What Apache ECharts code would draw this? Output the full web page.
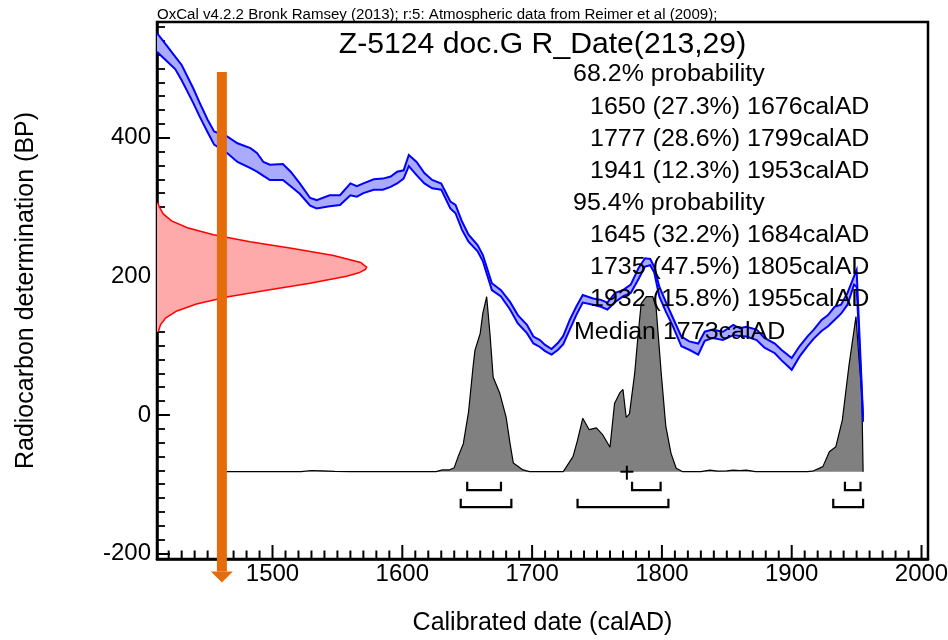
<!DOCTYPE html>
<html>
<head>
<meta charset="utf-8">
<script src="https://cdn.jsdelivr.net/npm/echarts@6/dist/echarts.min.js"></script>
<style>
  html, body { margin: 0; padding: 0; background: #fff; }
  #chart { width: 948px; height: 640px; }
</style>
</head>
<body>
<div id="chart"></div>
<script>
// calibration curve band (upper / lower edge, BP)
const curveYears = [1411, 1416, 1425, 1430, 1439, 1444, 1450, 1455, 1465, 1473, 1483, 1488, 1493, 1498, 1508, 1514,
  1521, 1529, 1534, 1544, 1552, 1560, 1565, 1570, 1578, 1585, 1591, 1596, 1601, 1605, 1611, 1617, 1623, 1630,
  1637, 1641, 1646, 1651, 1658, 1662, 1669, 1676, 1683, 1689, 1696, 1701, 1706, 1710, 1715, 1720, 1724, 1729,
  1734, 1739, 1747, 1753, 1758, 1764, 1770, 1776, 1782, 1787, 1791, 1794, 1798, 1803, 1808, 1815, 1821, 1828,
  1833, 1839, 1847, 1855, 1860, 1865, 1873, 1879, 1887, 1892, 1900, 1906, 1912, 1917, 1923, 1928, 1933, 1938,
  1943, 1948, 1950, 1955];
const curveUpper = [551, 539, 517, 505, 471, 450, 426, 409, 402, 392, 385, 378, 365, 361, 362, 351,
  334, 313, 310, 317, 317, 334, 330, 334, 340, 341, 344, 351, 353, 375, 365, 349, 339, 334,
  308, 303, 279, 260, 245, 231, 190, 180, 163, 144, 130, 113, 108, 101, 95, 104, 114, 137,
  156, 173, 168, 166, 162, 176, 180, 188, 212, 226, 225, 214, 185, 163, 142, 113, 106, 103,
  120, 123, 120, 130, 125, 127, 123, 111, 103, 94, 82, 99, 113, 123, 137, 144, 156, 159,
  176, 200, 209, -4];
const curveLower = [524, 515, 499, 483, 450, 430, 408, 390, 378, 365, 356, 351, 345, 339, 339, 330,
  319, 302, 298, 301, 303, 317, 315, 320, 325, 325, 329, 334, 341, 359, 346, 334, 327, 325,
  298, 291, 267, 250, 236, 222, 180, 171, 152, 132, 118, 103, 98, 92, 87, 94, 102, 123,
  144, 162, 159, 156, 152, 163, 171, 176, 196, 214, 216, 206, 171, 149, 130, 99, 94, 87,
  107, 111, 108, 115, 114, 113, 108, 97, 89, 79, 65, 84, 99, 110, 121, 128, 137, 146,
  159, 188, 185, -10];

// R_Date(213,29): BP value and how far the curve reaches into the plot (years)
const dateBP = [120, 130, 140, 150, 160, 170, 180, 190, 200, 205, 210, 213, 220, 230, 240, 250, 260, 270, 280, 290, 300, 306];
const dateWidth = [1.0, 2.7, 6.8, 15.3, 30.4, 53.8, 84.5, 117.9, 146.1, 155.5, 160.6, 161.5, 156.9, 136.0, 104.7, 71.6, 43.5, 23.4, 11.2, 4.8, 1.8, 0.6];

// calibrated date, relative probability
const postYears = [1460, 1522, 1530, 1538, 1548, 1560, 1626, 1631, 1636, 1640, 1643, 1647, 1651, 1654.5, 1656, 1660,
  1662, 1665, 1667.5, 1670, 1675, 1680, 1683, 1685.5, 1693, 1698, 1724, 1731.5, 1735, 1739, 1744, 1749.5, 1754.5,
  1760, 1763.5, 1767.5, 1770, 1772.5, 1775, 1779, 1781.5, 1784, 1788, 1793, 1795.5, 1799.5, 1803, 1807, 1811, 1816,
  1830, 1837, 1843, 1850, 1855, 1860, 1865, 1872, 1912, 1916, 1924, 1929, 1934, 1939, 1944, 1949.5, 1952, 1954, 1955];
const postProb = [0, 0, 0.7, 0.5, 0.2, 0, 0, 1, 1, 2.3, 8.6, 16, 34, 60, 69.5, 79,
  90.5, 100, 79, 54, 45, 31, 16, 5, 1, 0, 0, 8.6, 18, 30.5, 24, 25, 21,
  14, 39, 45, 47, 31, 33, 56, 77, 96, 100, 100, 94, 56, 26, 10.5, 2, 0,
  0, 0.9, 0.3, 0.5, 0.9, 0.7, 0.9, 0, 0, 0.3, 2.9, 11.4, 14.3, 29.5, 60, 88.6, 63, 45, 0];

const range68 = [[1650, 1676], [1777, 1799], [1941, 1953]];
const pct68 = [27.3, 28.6, 12.3];
const range95 = [[1645, 1684], [1735, 1805], [1932, 1955]];
const pct95 = [32.2, 47.5, 15.8];
const median = 1773;

// orange arrow: year, top and tip (BP)
const arrow = [1461, 495, -242];

const xMajor = [1500, 1600, 1700, 1800, 1900, 2000];
const yMajor = [-200, 0, 200, 400];
const X_MIN = 1411, X_MAX = 2005, Y_MIN = -208, Y_MAX = 567;

const xMinor = [];
for (let v = 1420; v < X_MAX; v += 10) if (v % 100) xMinor.push(v);
const yMinor = [];
for (let v = -180; v < Y_MAX; v += 20) if (v % 200) yMinor.push(v);

const FONT = 'Liberation Sans, Arial, sans-serif';
const ORANGE = '#e46c0a';

function redItem(params, api) {
  const edge = dateBP.map((bp, i) => api.coord([X_MIN + dateWidth[i], bp]));
  const base = [api.coord([X_MIN, dateBP[dateBP.length - 1]]), api.coord([X_MIN, dateBP[0]])];
  return {
    type: 'group', children: [
      { type: 'polygon', shape: { points: edge.concat(base) }, style: { fill: '#ffaaaa' } },
      { type: 'polyline', shape: { points: edge }, style: { stroke: '#ff0000', lineWidth: 1.5, fill: null } }
    ]
  };
}

function bandItem(params, api) {
  const up = curveYears.map((t, i) => api.coord([t, curveUpper[i]]));
  const lo = curveYears.map((t, i) => api.coord([t, curveLower[i]]));
  return {
    type: 'group', children: [
      { type: 'polygon', shape: { points: up.concat(lo.slice().reverse()) }, style: { fill: '#aaaaff' } },
      { type: 'polyline', shape: { points: up }, style: { stroke: '#0000ff', lineWidth: 2, fill: null } },
      { type: 'polyline', shape: { points: lo }, style: { stroke: '#0000ff', lineWidth: 2, fill: null } }
    ]
  };
}

// x-axis ticks standing on the axis line, placed through the x scale
function xTickItem(params, api) {
  const children = [];
  xMajor.concat(xMinor).forEach(v => {
    const p = api.coord([v, Y_MIN]);
    const len = xMajor.indexOf(v) >= 0 ? 14 : 8.5;
    children.push({ type: 'rect', shape: { x: p[0] - 1, y: p[1] - len, width: 2, height: len }, style: { fill: '#000' } });
  });
  return { type: 'group', children: children };
}

function bracketItem(params, api) {
  const a = api.coord([api.value(0), 0]);
  const b = api.coord([api.value(1), 0]);
  const y = a[1] + (api.value(2) ? 35.5 : 18.5);
  return {
    type: 'polyline',
    shape: { points: [[a[0], y - 8.5], [a[0], y], [b[0], y], [b[0], y - 8.5]] },
    style: { stroke: '#000', lineWidth: 2.2, fill: null }
  };
}

function crossItem(params, api) {
  const p = api.coord([api.value(0), 0]);
  return {
    type: 'group', children: [
      { type: 'line', shape: { x1: p[0] - 6.5, y1: p[1], x2: p[0] + 6.5, y2: p[1] }, style: { stroke: '#000', lineWidth: 2 } },
      { type: 'line', shape: { x1: p[0], y1: p[1] - 6, x2: p[0], y2: p[1] + 8 }, style: { stroke: '#000', lineWidth: 2 } }
    ]
  };
}

function arrowItem(params, api) {
  const top = api.coord([api.value(0), api.value(1)]);
  const tip = api.coord([api.value(0), api.value(2)]);
  const head = 11, half = 11, w = 10;
  return {
    type: 'group', children: [
      { type: 'rect', shape: { x: top[0] - w / 2, y: top[1], width: w, height: tip[1] - head - top[1] }, style: { fill: ORANGE } },
      { type: 'polygon', shape: { points: [[tip[0] - half, tip[1] - head], [tip[0] + half, tip[1] - head], tip] }, style: { fill: ORANGE } }
    ]
  };
}

// text block on the right
const lineTop = 75.1, lineStep = 32.15;
const textLines = [];
textLines.push({ x: 573, t: '68.2% probability' });
range68.forEach((r, i) => textLines.push({ x: 590, t: r[0] + ' (' + pct68[i].toFixed(1) + '%) ' + r[1] + 'calAD' }));
textLines.push({ x: 573, t: '95.4% probability' });
range95.forEach((r, i) => textLines.push({ x: 590, t: r[0] + ' (' + pct95[i].toFixed(1) + '%) ' + r[1] + 'calAD' }));
textLines.push({ x: 574, t: 'Median ' + median + 'calAD' });

function textEl(x, y, text, size, sx, align) {
  return {
    type: 'text', x: x, y: y, scaleX: sx, z: 100,
    style: { text: text, font: size + 'px ' + FONT, fill: '#000', align: align || 'left', verticalAlign: 'middle' }
  };
}

const graphic = [
  textEl(157, 15.5, 'OxCal v4.2.2 Bronk Ramsey (2013); r:5: Atmospheric data from Reimer et al (2009);', 14, 1.075),
  textEl(542.5, 45, 'Z-5124 doc.G R_Date(213,29)', 29, 1.04, 'center')
];
textLines.forEach((l, i) => graphic.push(textEl(l.x, lineTop + i * lineStep, l.t, 23, 1.087)));

const chart = echarts.init(document.getElementById('chart'));
const labelStyle = { fontSize: 24, fontFamily: FONT, color: '#000', formatter: v => String(v) };

chart.setOption({
  animation: false,
  backgroundColor: '#fff',
  grid: [
    { left: 157, right: 20, top: 22, bottom: 81, show: true, borderColor: '#000', borderWidth: 2.5, outerBoundsMode: 'none' },
    { left: 157, right: 20, top: 296.7, bottom: 168.3, outerBoundsMode: 'none' }
  ],
  xAxis: [
    {
      gridIndex: 0, type: 'value', min: X_MIN, max: X_MAX,
      name: 'Calibrated date (calAD)', nameLocation: 'middle', nameGap: 52,
      nameTextStyle: { fontSize: 25, fontFamily: FONT, color: '#000' },
      axisLine: { show: true, onZero: false, lineStyle: { color: '#000', width: 2.5 } },
      axisTick: { show: false },
      axisLabel: Object.assign({ customValues: xMajor, margin: 3 }, labelStyle),
      splitLine: { show: false }
    },
    { gridIndex: 1, type: 'value', min: X_MIN, max: X_MAX, show: false }
  ],
  yAxis: [
    {
      gridIndex: 0, type: 'value', min: Y_MIN, max: Y_MAX,
      name: 'Radiocarbon determination (BP)', nameLocation: 'middle', nameGap: 118,
      nameTextStyle: { fontSize: 25, fontFamily: FONT, color: '#000' },
      axisLine: { show: true, onZero: false, lineStyle: { color: '#000', width: 2.5 } },
      axisTick: { show: true, inside: true, length: 13, customValues: yMajor, lineStyle: { color: '#000', width: 2 } },
      axisLabel: Object.assign({ customValues: yMajor, margin: 6 }, labelStyle),
      splitLine: { show: false }
    },
    {
      gridIndex: 0, type: 'value', min: Y_MIN, max: Y_MAX, position: 'left',
      axisLine: { show: false, onZero: false },
      axisTick: { show: true, inside: true, length: 8, customValues: yMinor, lineStyle: { color: '#000', width: 1.8 } },
      axisLabel: { show: false }, splitLine: { show: false }
    },
    { gridIndex: 1, type: 'value', min: 0, max: 100, show: false }
  ],
  series: [
    { type: 'custom', xAxisIndex: 0, yAxisIndex: 0, z: 2, renderItem: redItem, data: [[X_MIN, 213]] },
    {
      type: 'line', xAxisIndex: 1, yAxisIndex: 2, z: 3, clip: false,
      data: postYears.map((t, i) => [t, postProb[i]]),
      symbol: 'none', lineStyle: { color: '#000', width: 1.2 },
      areaStyle: { color: '#808080', opacity: 1 }
    },
    { type: 'custom', xAxisIndex: 0, yAxisIndex: 0, z: 4, renderItem: bandItem, data: [[curveYears[0], curveUpper[0]]] },
    { type: 'custom', xAxisIndex: 0, yAxisIndex: 0, z: 5, renderItem: xTickItem, data: [[X_MIN, Y_MIN]] },
    {
      type: 'custom', xAxisIndex: 1, yAxisIndex: 2, z: 4, renderItem: bracketItem,
      encode: { x: [0, 1], y: 2 },
      data: range68.map(r => [r[0], r[1], 0]).concat(range95.map(r => [r[0], r[1], 1]))
    },
    { type: 'custom', xAxisIndex: 1, yAxisIndex: 2, z: 4, renderItem: crossItem, data: [[median, 0]] },
    { type: 'custom', xAxisIndex: 0, yAxisIndex: 0, z: 6, renderItem: arrowItem, encode: { x: 0, y: [1, 2] }, data: [arrow] }
  ],
  graphic: graphic
});
</script>
</body>
</html>
